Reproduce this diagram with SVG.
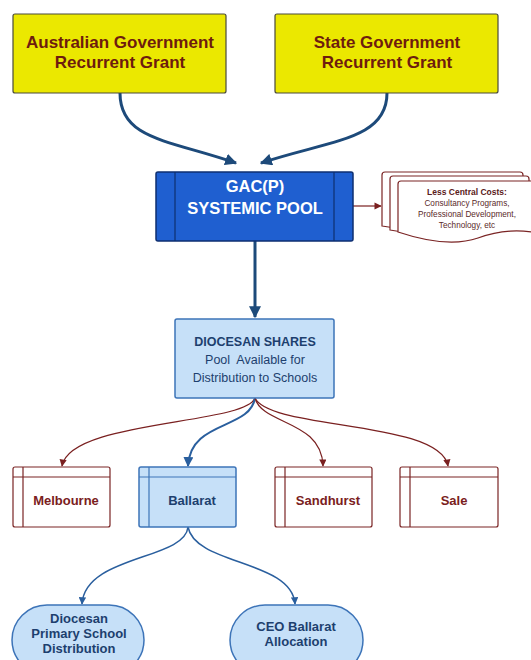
<svg xmlns="http://www.w3.org/2000/svg" width="531" height="660" viewBox="0 0 531 660">
<style>
.t{font-family:"Liberation Sans",Arial,sans-serif;text-anchor:middle}
.b{font-weight:bold}
.yel{fill:#ebe800;stroke:#4a4a3a;stroke-width:1.2}
.ytx{fill:#6e1c0e;font-size:17px;font-weight:bold}
.red{fill:#fff;stroke:#7a2424;stroke-width:1.2}
.rtx{fill:#7a2020;font-size:13px;font-weight:bold}
.lb{fill:#c6e0f8;stroke:#3d74b8;stroke-width:1.5}
.btx{fill:#1d3f6e}
.doc{fill:#fff;stroke:#7a2424;stroke-width:1.2}
.cb{fill:none;stroke:#1d4a7a;stroke-width:3}
.cr{fill:none;stroke:#7a2020;stroke-width:1.2}
.cl{fill:none;stroke:#2a5f9e;stroke-width:2}
.cl2{fill:none;stroke:#2a5f9e;stroke-width:1.5}
</style>
<defs>
<marker id="ab" viewBox="0 0 10 10" refX="9" refY="5" markerWidth="4" markerHeight="4" orient="auto" markerUnits="strokeWidth"><path d="M0,0 L10,5 L0,10 Z" fill="#1d4a7a"/></marker>
<marker id="ar" viewBox="0 0 10 10" refX="9" refY="5" markerWidth="7" markerHeight="6" orient="auto" markerUnits="strokeWidth"><path d="M0,0 L10,5 L0,10 Z" fill="#7a2020"/></marker>
<marker id="al" viewBox="0 0 10 10" refX="9" refY="5" markerWidth="5" markerHeight="5" orient="auto" markerUnits="strokeWidth"><path d="M0,0 L10,5 L0,10 Z" fill="#2a5f9e"/></marker>
</defs>
<rect width="531" height="660" fill="#fff"/>
<g id="connectors">
<path class="cb" d="M120,93 C120,140 170,140 236,163" marker-end="url(#ab)"/>
<path class="cb" d="M387,93 C387,140 330,140 261,163" marker-end="url(#ab)"/>
<path class="cb" d="M255,241 L255,317" marker-end="url(#ab)"/>
<path class="cr" d="M353,206 L381,206" marker-end="url(#ar)"/>
<path class="cr" d="M255,398 C245,425 70,420 62,466" marker-end="url(#ar)"/>
<path class="cl" d="M255,398 C250,430 190,420 188,466" marker-end="url(#al)"/>
<path class="cr" d="M255,398 C262,425 322,420 323,466" marker-end="url(#ar)"/>
<path class="cr" d="M255,398 C270,430 440,420 448,466" marker-end="url(#ar)"/>
<path class="cl2" d="M188,527 C185,560 85,555 82,604" marker-end="url(#al)"/>
<path class="cl2" d="M188,527 C195,565 292,560 295,604" marker-end="url(#al)"/>
</g>
<g id="aus-grant">
<rect class="yel" x="13" y="14" width="213" height="79" rx="2"/>
<text class="t ytx" x="120" y="48">Australian Government</text>
<text class="t ytx" x="120" y="68">Recurrent Grant</text>
</g>
<g id="state-grant">
<rect class="yel" x="275" y="14" width="223" height="79" rx="2"/>
<text class="t ytx" x="387" y="48">State Government</text>
<text class="t ytx" x="387" y="68">Recurrent Grant</text>
</g>
<g id="gac-pool">
<rect x="156" y="172" width="197" height="69" rx="2" fill="#1f5fd0" stroke="#0e2f70" stroke-width="1.5"/>
<line x1="175" y1="172" x2="175" y2="241" stroke="#0e2f70" stroke-width="1.2"/>
<line x1="334" y1="172" x2="334" y2="241" stroke="#0e2f70" stroke-width="1.2"/>
<text class="t b" x="255" y="192" fill="#fff" font-size="16.5">GAC(P)</text>
<text class="t b" x="255" y="214" fill="#fff" font-size="16.5">SYSTEMIC POOL</text>
</g>
<g id="central-costs">
<path class="doc" d="M382,175 Q382,172 385,172 L520,172 Q523,172 523,175 L523,222 C505,222 490,224 470,230 C450,236 420,232 382,226 Z"/>
<path class="doc" d="M390,179 Q390,176 393,176 L526,176 Q529,176 529,179 L529,226 C510,226 495,228 478,234 C455,240 425,236 390,230 Z"/>
<path class="doc" d="M398,184 Q398,181 401,181 L545,181 L545,234 C520,229 500,230 478,238 C455,246 425,241 398,232 Z"/>
<text class="t b" x="467" y="195" fill="#5a2020" font-size="8.5">Less Central Costs:</text>
<text class="t" x="467" y="206" fill="#5a2a2a" font-size="8.2">Consultancy Programs,</text>
<text class="t" x="467" y="217" fill="#5a2a2a" font-size="8.2">Professional Development,</text>
<text class="t" x="467" y="228" fill="#5a2a2a" font-size="8.2">Technology, etc</text>
</g>
<g id="diocesan-shares">
<rect class="lb" x="175" y="319" width="159" height="79" rx="2"/>
<text class="t b btx" x="255" y="346" font-size="12.5">DIOCESAN SHARES</text>
<text class="t btx" x="255" y="364" font-size="12.5" xml:space="preserve">Pool  Available for</text>
<text class="t btx" x="255" y="382" font-size="12.5">Distribution to Schools</text>
</g>
<g id="melbourne">
<rect class="red" x="13" y="467" width="97" height="60" rx="2"/>
<line x1="13" y1="477" x2="110" y2="477" stroke="#7a2424" stroke-width="1.2"/>
<line x1="23" y1="467" x2="23" y2="527" stroke="#7a2424" stroke-width="1.2"/>
<text class="t rtx" x="66" y="505">Melbourne</text>
</g>
<g id="ballarat">
<rect class="lb" x="139" y="467" width="97" height="60" rx="2"/>
<line x1="139" y1="477" x2="236" y2="477" stroke="#3d74b8" stroke-width="1.2"/>
<line x1="149" y1="467" x2="149" y2="527" stroke="#3d74b8" stroke-width="1.2"/>
<text class="t b btx" x="192" y="505" font-size="13">Ballarat</text>
</g>
<g id="sandhurst">
<rect class="red" x="275" y="467" width="97" height="60" rx="2"/>
<line x1="275" y1="477" x2="372" y2="477" stroke="#7a2424" stroke-width="1.2"/>
<line x1="285" y1="467" x2="285" y2="527" stroke="#7a2424" stroke-width="1.2"/>
<text class="t rtx" x="328" y="505">Sandhurst</text>
</g>
<g id="sale">
<rect class="red" x="400" y="467" width="98" height="60" rx="2"/>
<line x1="400" y1="477" x2="498" y2="477" stroke="#7a2424" stroke-width="1.2"/>
<line x1="410" y1="467" x2="410" y2="527" stroke="#7a2424" stroke-width="1.2"/>
<text class="t rtx" x="454" y="505">Sale</text>
</g>
<g id="primary-distribution">
<rect class="lb" x="12" y="605" width="132" height="70" rx="35" stroke="#2a5a96" stroke-width="2"/>
<text class="t b btx" x="79" y="623" font-size="13">Diocesan</text>
<text class="t b btx" x="79" y="638" font-size="13">Primary School</text>
<text class="t b btx" x="79" y="653" font-size="13">Distribution</text>
</g>
<g id="ceo-allocation">
<rect class="lb" x="230" y="605" width="133" height="70" rx="35" stroke="#2a5a96" stroke-width="2"/>
<text class="t b btx" x="296" y="631" font-size="13">CEO Ballarat</text>
<text class="t b btx" x="296" y="646" font-size="13">Allocation</text>
</g>
</svg>
